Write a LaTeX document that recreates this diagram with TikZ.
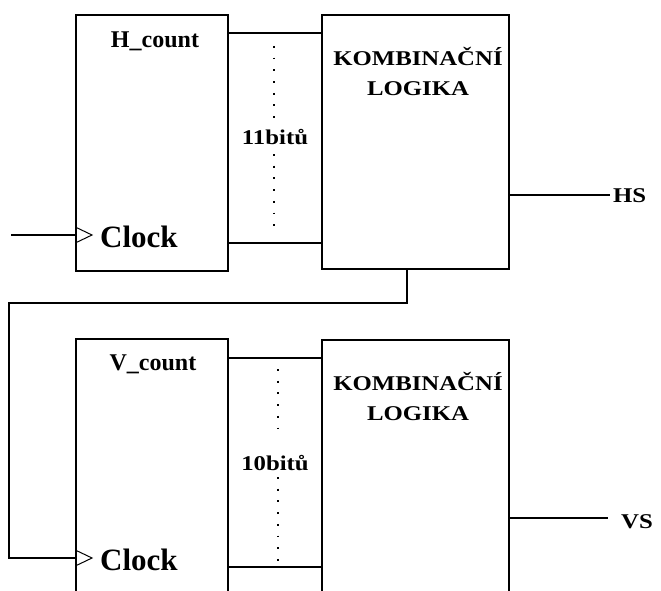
\documentclass[tikz,border=0pt]{standalone}
\usepackage{fontspec}
\setmainfont{Liberation Serif}
\newfontfamily\widefont[FakeStretch=1.18]{Liberation Serif}
\begin{document}
\begin{tikzpicture}[x=1pt,y=-1pt,
  blk/.style={draw, rectangle, line width=1.5pt, inner sep=0pt},
  ttl/.style={font=\bfseries\fontsize{24}{28}\selectfont, anchor=base, inner sep=0pt},
  clk/.style={font=\bfseries\fontsize{31}{36}\selectfont, anchor=base west, inner sep=0pt},
  wide/.style={font=\widefont\bfseries\fontsize{21}{25}\selectfont, anchor=base, inner sep=0pt},
  outl/.style={font=\widefont\bfseries\fontsize{21}{25}\selectfont, anchor=base west, inner sep=0pt},
  wire/.style={line width=1.5pt},
  busdots/.style={line width=1.8pt, dash pattern=on 1.8pt off 9.9pt}]
\useasboundingbox (0,0) rectangle (661,591);
\clip (0,0) rectangle (661,591);
% blocks
\node[blk, minimum width=152pt, minimum height=256pt] (H) at (152,143) {};
\node[blk, minimum width=187pt, minimum height=254pt] (K1) at (415.5,142) {};
\node[blk, minimum width=152pt, minimum height=300pt] (V) at (152,489) {};
\node[blk, minimum width=187pt, minimum height=300pt] (K2) at (415.5,490) {};
% texts
\node[ttl] (Ht) at (155,48) {H\_count};
\node[ttl] (Vt) at (153,370) {V\_count};
\node[clk] (Hc) at (100,247) {Clock};
\node[clk] (Vc) at (100,570) {Clock};
\node[wide] (K1a) at (418,66) {KOMBINAČNÍ};
\node[wide] (K1b) at (418,96) {LOGIKA};
\node[wide] (K2a) at (418,390) {KOMBINAČNÍ};
\node[wide] (K2b) at (418,420) {LOGIKA};
\node[wide] (B1) at (275,145) {11bitů};
\node[wide] (B2) at (275,470) {10bitů};
\node[outl] (HS) at (613,202) {HS};
\node[outl] (VS) at (621,528) {VS};
% helper coordinates
\coordinate (hb1) at (0,33);
\coordinate (hb2) at (0,243);
\coordinate (vb1) at (0,358);
\coordinate (vb2) at (0,567);
\coordinate (hclk) at (11,235);
\coordinate (vclk) at (9,558);
\coordinate (hs) at (610,195);
\coordinate (vs) at (608,518);
\coordinate (lp) at (407,303);
% buses
\draw[wire] (H.east |- hb1) -- (K1.west |- hb1);
\draw[wire] (H.east |- hb2) -- (K1.west |- hb2);
\draw[wire] (V.east |- vb1) -- (K2.west |- vb1);
\draw[wire] (V.east |- vb2) -- (K2.west |- vb2);
\draw[busdots] (274,46) -- (274,120);
\draw[busdots] (274,154) -- (274,229);
\draw[busdots] (278,369) -- (278,439);
\draw[busdots] (278,477) -- (278,561);
% clock inputs
\draw[wire] (hclk) -- (H.west |- hclk);
\draw[line width=1pt] (H.west |- 0,227) -- (92,235) -- (H.west |- 0,243);
\draw[wire] (K1.south -| lp) -- (lp) -- (vclk |- lp) -- (vclk) -- (V.west |- vclk);
\draw[line width=1pt] (V.west |- 0,550) -- (92,558) -- (V.west |- 0,566);
% outputs
\draw[wire] (K1.east |- hs) -- (hs);
\draw[wire] (K2.east |- vs) -- (vs);
\end{tikzpicture}
\end{document}
